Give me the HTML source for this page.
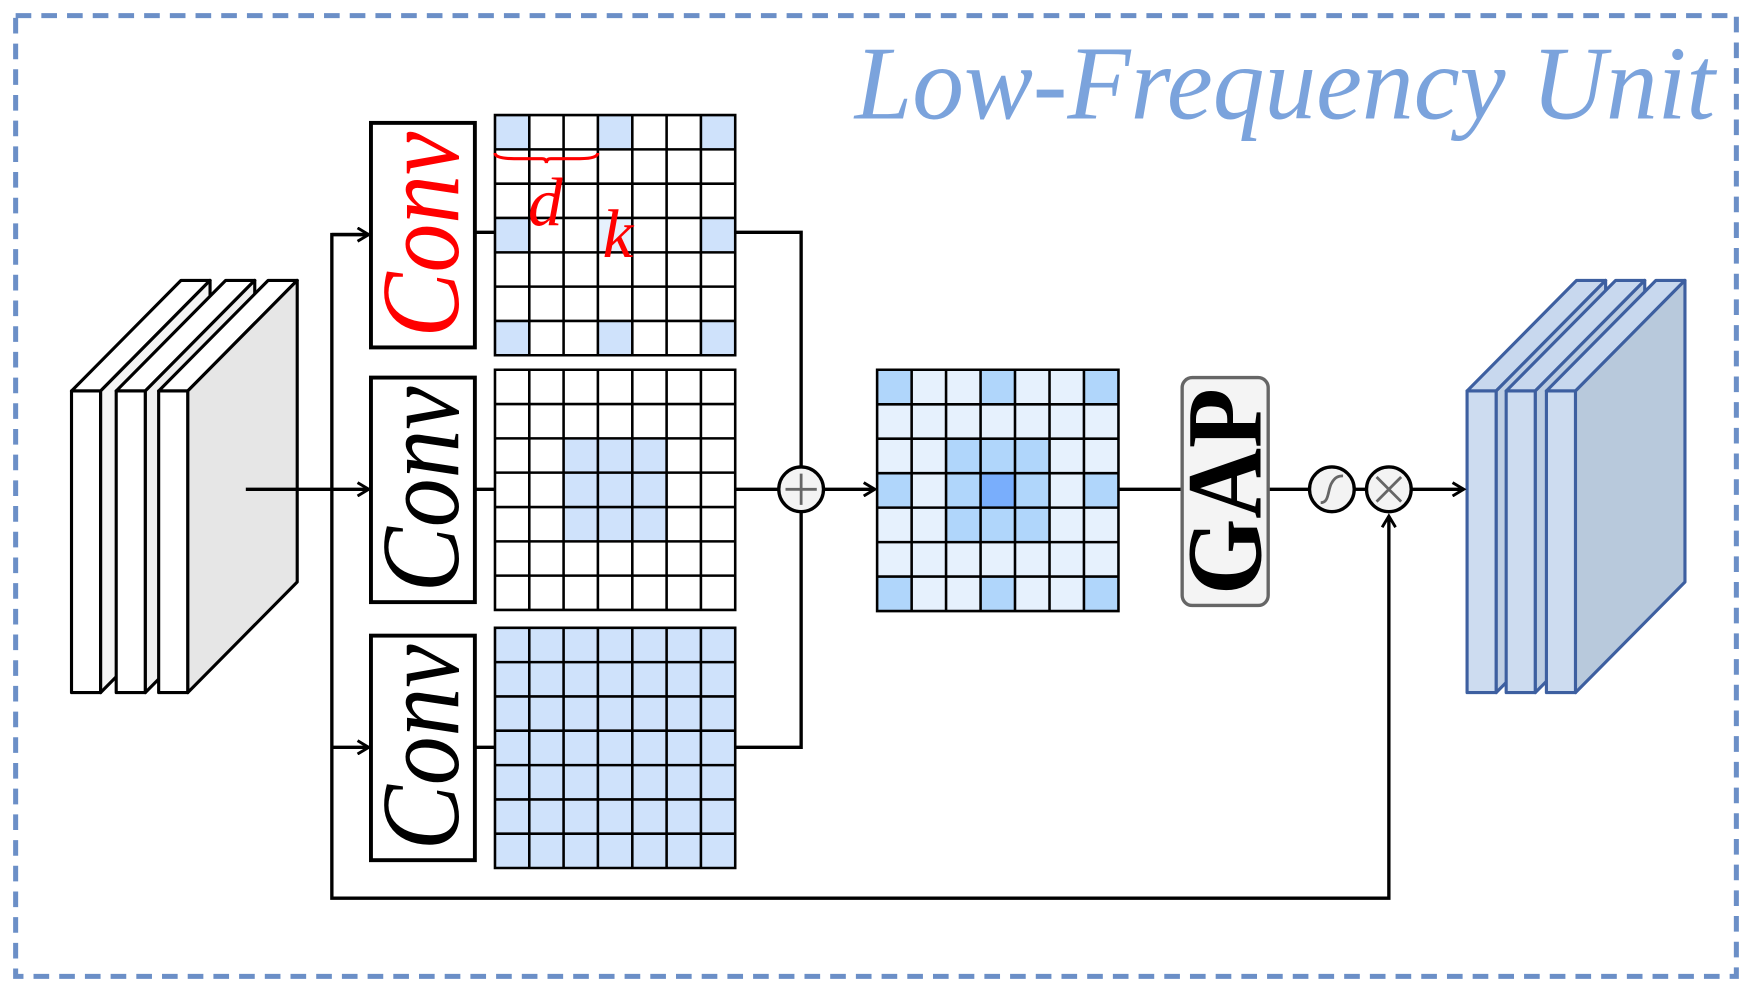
<!DOCTYPE html>
<html><head><meta charset="utf-8"><style>html,body{margin:0;padding:0;background:#fff;overflow:hidden}svg{display:block}</style></head>
<body>
<svg width="1752" height="992" viewBox="0 0 1568 888" preserveAspectRatio="none" xmlns="http://www.w3.org/2000/svg">
<defs>
<marker id="ar" markerWidth="14" markerHeight="14" refX="11" refY="7" orient="auto" markerUnits="userSpaceOnUse">
<path d="M1,1 L11,7 L1,13" fill="none" stroke="#000" stroke-width="2.6"/></marker>
</defs>
<rect x="14" y="14" width="1540" height="860" fill="none" stroke="#6b8fc7" stroke-width="4.5" stroke-dasharray="14 9"/>
<text x="765" y="106" textLength="770" lengthAdjust="spacingAndGlyphs" font-family="Liberation Serif, serif" font-style="italic" font-size="94" fill="#7ba3dc">Low-Frequency Unit</text>

<!-- left stack -->
<g stroke="#000" stroke-width="2.8" stroke-linejoin="round">
<polygon points="64,350 90,350 188,251 162,251" fill="#fff"/><polygon points="90,350 188,251 188,521 90,620" fill="#f4f4f4"/><rect x="64" y="350" width="26" height="270" fill="#fff"/>
<polygon points="104,350 130,350 228,251 202,251" fill="#fff"/><polygon points="130,350 228,251 228,521 130,620" fill="#efefef"/><rect x="104" y="350" width="26" height="270" fill="#fff"/>
<polygon points="142,350 168,350 266,251 240,251" fill="#fff"/><polygon points="168,350 266,251 266,521 168,620" fill="#e6e6e6"/><rect x="142" y="350" width="26" height="270" fill="#fff"/>
</g>
<!-- right stack -->
<g stroke="#3d5fa0" stroke-width="2.8" stroke-linejoin="round">
<polygon points="1313,350 1339,350 1437,251 1411,251" fill="#c8d8ee"/><polygon points="1339,350 1437,251 1437,521 1339,620" fill="#bfcfe4"/><rect x="1313" y="350" width="26" height="270" fill="#cddcf0"/>
<polygon points="1348,350 1374,350 1472,251 1446,251" fill="#c8d8ee"/><polygon points="1374,350 1472,251 1472,521 1374,620" fill="#bccde2"/><rect x="1348" y="350" width="26" height="270" fill="#cddcf0"/>
<polygon points="1384,350 1410,350 1508,251 1482,251" fill="#c8d8ee"/><polygon points="1410,350 1508,251 1508,521 1410,620" fill="#b8c9dc"/><rect x="1384" y="350" width="26" height="270" fill="#cddcf0"/>
</g>

<!-- connectors -->
<g stroke="#000" stroke-width="3" fill="none">
<line x1="220" y1="438" x2="330" y2="438" marker-end="url(#ar)"/>
<polyline points="330,210 297,210 297,804 1243,804 1243,462" marker-end="url(#ar)"/>
<line x1="297" y1="669" x2="330" y2="669" marker-end="url(#ar)"/>
<line x1="297" y1="210" x2="330" y2="210" marker-end="url(#ar)"/>
<line x1="425" y1="208" x2="443" y2="208"/><line x1="425" y1="438" x2="443" y2="438"/><line x1="425" y1="669" x2="443" y2="669"/>
<polyline points="658,208 717,208 717,669 658,669"/>
<line x1="658" y1="438" x2="697" y2="438"/>
<line x1="737" y1="438" x2="783" y2="438" marker-end="url(#ar)"/>
<line x1="1001" y1="438" x2="1058" y2="438"/>
<line x1="1135" y1="438" x2="1172" y2="438"/>
<line x1="1212" y1="438" x2="1223" y2="438"/>
<line x1="1263" y1="438" x2="1310" y2="438" marker-end="url(#ar)"/>
</g>

<!-- conv boxes -->
<g stroke="#000" stroke-width="3.5" fill="#fff">
<rect x="332" y="110" width="93" height="201"/><rect x="332" y="338" width="93" height="201"/><rect x="332" y="569" width="93" height="201"/>
</g>
<g font-family="Liberation Serif, serif" font-style="italic" font-size="100" text-anchor="middle">
<text transform="translate(410,210) rotate(-90)" textLength="184" lengthAdjust="spacingAndGlyphs" fill="#f00">Conv</text>
<text transform="translate(410,438) rotate(-90)" textLength="184" lengthAdjust="spacingAndGlyphs" fill="#000">Conv</text>
<text transform="translate(410,669) rotate(-90)" textLength="184" lengthAdjust="spacingAndGlyphs" fill="#000">Conv</text>
</g>

<!-- grids -->
<rect x="443" y="103" width="215" height="215" fill="#fff"/>
<g fill="#cfe2fb">
<rect x="443" y="103" width="30.7" height="30.7"/><rect x="535.1" y="103" width="30.7" height="30.7"/><rect x="627.3" y="103" width="30.7" height="30.7"/>
<rect x="443" y="195.1" width="30.7" height="30.7"/><rect x="627.3" y="195.1" width="30.7" height="30.7"/>
<rect x="443" y="287.3" width="30.7" height="30.7"/><rect x="535.1" y="287.3" width="30.7" height="30.7"/><rect x="627.3" y="287.3" width="30.7" height="30.7"/>
</g>
<rect x="535.1" y="195.1" width="30.7" height="30.7" fill="#e6f1fd"/>
<rect x="443" y="331" width="215" height="215" fill="#fff"/>
<rect x="504.4" y="392.4" width="92.2" height="92.2" fill="#cfe2fb"/>
<rect x="443" y="562" width="215" height="215" fill="#cfe2fb"/>

<rect x="785" y="331" width="216" height="216" fill="#e6f1fd"/>
<g fill="#b0d6fb">
<rect x="785" y="331" width="30.9" height="30.9"/><rect x="877.6" y="331" width="30.9" height="30.9"/><rect x="970.1" y="331" width="30.9" height="30.9"/>
<rect x="785" y="423.6" width="30.9" height="30.9"/><rect x="970.1" y="423.6" width="30.9" height="30.9"/>
<rect x="785" y="516.1" width="30.9" height="30.9"/><rect x="877.6" y="516.1" width="30.9" height="30.9"/><rect x="970.1" y="516.1" width="30.9" height="30.9"/>
<rect x="846.7" y="392.7" width="92.6" height="92.6"/>
</g>
<rect x="877.6" y="423.6" width="30.9" height="30.9" fill="#79aefc"/>

<g stroke="#000" stroke-width="2.3" fill="none">
<path d="M443,103h215v215h-215z M443,133.7h215 M443,164.4h215 M443,195.1h215 M443,225.9h215 M443,256.6h215 M443,287.3h215 M473.7,103v215 M504.4,103v215 M535.1,103v215 M565.9,103v215 M596.6,103v215 M627.3,103v215"/>
<path d="M443,331h215v215h-215z M443,361.7h215 M443,392.4h215 M443,423.1h215 M443,453.9h215 M443,484.6h215 M443,515.3h215 M473.7,331v215 M504.4,331v215 M535.1,331v215 M565.9,331v215 M596.6,331v215 M627.3,331v215"/>
<path d="M443,562h215v215h-215z M443,592.7h215 M443,623.4h215 M443,654.1h215 M443,684.9h215 M443,715.6h215 M443,746.3h215 M473.7,562v215 M504.4,562v215 M535.1,562v215 M565.9,562v215 M596.6,562v215 M627.3,562v215"/>
<path d="M785,331h216v216h-216z M785,361.9h216 M785,392.7h216 M785,423.6h216 M785,454.4h216 M785,485.3h216 M785,516.1h216 M815.9,331v216 M846.7,331v216 M877.6,331v216 M908.4,331v216 M939.3,331v216 M970.1,331v216"/>
</g>

<!-- d / k annotations -->
<path d="M443,137 Q443,142 460,142 L485,142 Q489,142 489,146 Q489,142 493,142 L519,142 Q535,142 535,137" fill="none" stroke="#f00" stroke-width="2.8"/>
<text x="488" y="202" text-anchor="middle" font-family="Liberation Serif, serif" font-style="italic" font-size="62" fill="#f00">d</text>
<text x="553" y="230" text-anchor="middle" font-family="Liberation Serif, serif" font-style="italic" font-size="62" fill="#f00">k</text>

<!-- plus circle -->
<circle cx="717" cy="438" r="20" fill="#f3f3f3" stroke="#000" stroke-width="3"/>
<path d="M703,438h28M717,424v28" stroke="#666" stroke-width="2.5"/>

<!-- GAP -->
<rect x="1058" y="338" width="77" height="204" rx="9" fill="#f4f4f4" stroke="#666" stroke-width="3"/>
<text transform="translate(1128,440) rotate(-90)" text-anchor="middle" textLength="185" lengthAdjust="spacingAndGlyphs" font-family="Liberation Serif, serif" font-weight="bold" font-size="96" fill="#000">GAP</text>

<!-- sigmoid / multiply -->
<circle cx="1192" cy="438" r="20" fill="#f3f3f3" stroke="#000" stroke-width="3"/>
<path d="M1182,450 C1190,450 1188,438 1192,432 C1195,427 1198,426 1202,426" fill="none" stroke="#666" stroke-width="2.5"/>
<circle cx="1243" cy="438" r="20" fill="#f3f3f3" stroke="#000" stroke-width="3"/>
<path d="M1232,427L1254,449M1254,427L1232,449" stroke="#666" stroke-width="2.5"/>
</svg>
</body></html>
